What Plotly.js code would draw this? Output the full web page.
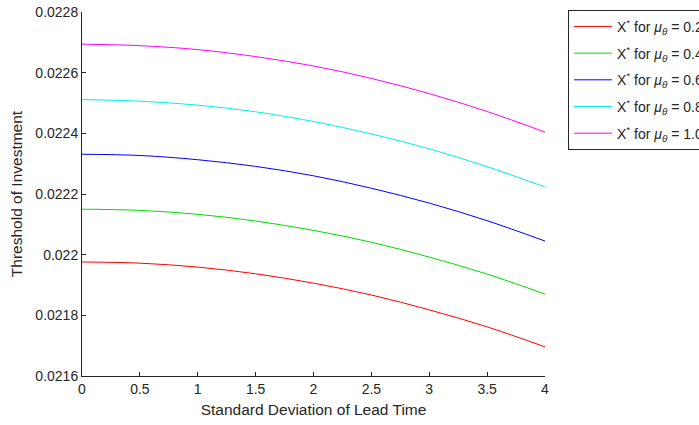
<!DOCTYPE html>
<html><head><meta charset="utf-8">
<script src="https://cdn.plot.ly/plotly-3.0.1.min.js"></script>
<style>html,body{margin:0;padding:0;background:#fff;overflow:hidden}#chart{width:699px;height:425px}</style>
</head><body><div id="chart"></div>
<script>
const sigma = [0, 0.5, 1, 1.5, 2, 2.5, 3, 3.5, 4];
const seriesNames = ['0.2', '0.4', '0.6', '0.8', '1.0'];
const x02 = [0.021976, 0.021972, 0.021959, 0.021937, 0.021906, 0.021867, 0.021818, 0.021762, 0.021696];
const x04 = [0.022150, 0.022146, 0.022133, 0.022111, 0.022080, 0.022041, 0.021992, 0.021936, 0.021870];
const x06 = [0.022331, 0.022327, 0.022313, 0.022291, 0.022260, 0.022219, 0.022170, 0.022112, 0.022045];
const x08 = [0.022511, 0.022506, 0.022493, 0.022471, 0.022439, 0.022398, 0.022349, 0.022290, 0.022223];
const x10 = [0.022694, 0.022689, 0.022676, 0.022653, 0.022622, 0.022581, 0.022531, 0.022472, 0.022404];
const yTickVals = [0.0216, 0.0218, 0.022, 0.0222, 0.0224, 0.0226, 0.0228];
const yTickText = ['0.0216', '0.0218', '0.022', '0.0222', '0.0224', '0.0226', '0.0228'];
const xTickVals = [0, 0.5, 1, 1.5, 2, 2.5, 3, 3.5, 4];
const xTickText = ['0', '0.5', '1', '1.5', '2', '2.5', '3', '3.5', '4'];

const colors = ['#ff0000', '#00dd00', '#0000ff', '#00eeee', '#ff00ff'];
const ys = [x02, x04, x06, x08, x10];
const traces = ys.map((y, i) => ({
  x: sigma, y: y, type: 'scatter', mode: 'lines',
  line: {color: colors[i], width: 1, shape: 'spline'},
  legendgroup: 'g' + i,
  name: 'X<sup>*</sup> for <i>μ</i><sub><i>θ</i></sub> = ' + seriesNames[i]
}));

const font = {family: 'Liberation Sans, Arial, sans-serif', color: '#262626'};
const layout = {
  width: 699, height: 425,
  margin: {l: 82, r: 154, t: 12, b: 49, autoexpand: false},
  paper_bgcolor: '#fff', plot_bgcolor: '#fff',
  font: Object.assign({size: 14}, font),
  showlegend: true,
  legend: {
    x: 1.0497, y: 1.006, xanchor: 'left', yanchor: 'top',
    bordercolor: '#262626', borderwidth: 1, bgcolor: '#fff',
    font: Object.assign({size: 14}, font),
    tracegroupgap: 5.5, itemwidth: 38
  },
  xaxis: {
    range: [0, 4], tickvals: xTickVals, ticktext: xTickText,
    ticks: 'inside', ticklen: 4, tickcolor: '#262626',
    showline: true, linecolor: '#262626', linewidth: 1, mirror: false,
    showgrid: false, zeroline: false,
    tickfont: Object.assign({size: 14}, font),
    title: {text: 'Standard Deviation of Lead Time', font: Object.assign({size: 15.5}, font), standoff: 8}
  },
  yaxis: {
    range: [0.0216, 0.0228], tickvals: yTickVals, ticktext: yTickText,
    ticks: 'inside', ticklen: 4, tickcolor: '#262626',
    showline: true, linecolor: '#262626', linewidth: 1, mirror: false,
    showgrid: false, zeroline: false,
    tickfont: Object.assign({size: 14}, font),
    title: {text: 'Threshold of Investment', font: Object.assign({size: 15.5}, font), standoff: 8}
  }
};
Plotly.newPlot('chart', traces, layout, {displayModeBar: false, staticPlot: true});
</script></body></html>
